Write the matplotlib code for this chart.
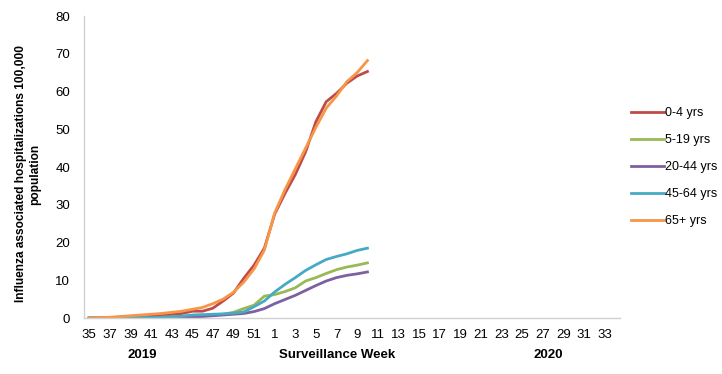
import matplotlib
matplotlib.use('Agg')
import matplotlib.pyplot as plt
import numpy as np

plt.rcParams['font.family'] = ['Liberation Sans', 'DejaVu Sans']

# surveillance weeks: 35-52 of 2019, 1-34 of 2020
weeks = list(range(35, 53)) + list(range(1, 35))

# cumulative rates per 100,000, weeks 35 (2019) to 10 (2020)
age_0_4 = [0, 0, 0.1, 0.2, 0.3, 0.4, 0.5, 0.7, 0.9, 1.2, 1.8, 1.8, 2.6, 4.5,
           6.6, 10.5, 14, 18.5, 27.5, 33, 38, 44, 52, 57.3, 59.5, 62.2, 64.1, 65.3]
age_5_19 = [0, 0, 0, 0, 0, 0.1, 0.1, 0.2, 0.3, 0.4, 0.5, 0.6, 0.8, 1.0,
            1.5, 2.5, 3.4, 5.8, 6.2, 7, 8, 9.8, 10.7, 11.8, 12.8, 13.5, 14, 14.6]
age_20_44 = [0, 0, 0, 0, 0, 0, 0.1, 0.1, 0.2, 0.2, 0.3, 0.4, 0.6, 0.8,
             1.0, 1.2, 1.7, 2.5, 3.8, 4.9, 6, 7.3, 8.6, 9.8, 10.7, 11.3, 11.7, 12.2]
age_45_64 = [0, 0, 0, 0, 0, 0, 0.1, 0.2, 0.3, 0.5, 0.8, 0.9, 1.0, 1.1,
             1.3, 1.6, 3.0, 4.5, 6.9, 8.9, 10.7, 12.6, 14.1, 15.5, 16.3, 17, 17.9, 18.5]
age_65 = [0, 0.1, 0.2, 0.4, 0.6, 0.8, 1.0, 1.2, 1.5, 1.8, 2.3, 2.8, 3.8, 5.0,
          6.8, 9.5, 13, 18, 27.8, 34, 39.5, 45, 50.5, 55.6, 58.8, 62.6, 65, 68.2]

labels = ['0-4 yrs', '5-19 yrs', '20-44 yrs', '45-64 yrs', '65+ yrs']
colors = ['#BE4B48', '#98B954', '#7D60A0', '#46AAC5', '#F79646']
series = [age_0_4, age_5_19, age_20_44, age_45_64, age_65]

fig = plt.figure(figsize=(7.22, 3.74), dpi=100)
ax = fig.add_axes([0.1163, 0.1497, 0.7424, 0.8075])

for vals, lab, c in zip(series, labels, colors):
    ax.plot(np.arange(len(vals)), vals, color=c, lw=2.0, label=lab,
            solid_joinstyle='round')

ax.set_xlim(-0.5, len(weeks) - 0.5)
ax.set_ylim(0, 80)
ax.set_yticks(range(0, 81, 10))
ax.set_xticks(range(0, len(weeks), 2))
ax.set_xticklabels([str(w) for w in weeks[::2]])
ax.tick_params(axis='both', length=0, labelsize=9.5, colors='black')
ax.tick_params(axis='x', pad=8)
ax.tick_params(axis='y', pad=10)

for s in ['top', 'right']:
    ax.spines[s].set_visible(False)
for s in ['left', 'bottom']:
    ax.spines[s].set_color('#D0D0D0')
    ax.spines[s].set_linewidth(1.0)

ax.set_ylabel('Influenza associated hospitalizations 100,000\npopulation',
              fontsize=8.6, fontweight='bold', linespacing=1.25)
ax.yaxis.set_label_coords(-0.080, 0.477)

fig.text(142 / 722, 1 - 355 / 374, '2019', fontsize=9.5, fontweight='bold',
         ha='center', va='center')
fig.text(337 / 722, 1 - 355 / 374, 'Surveillance Week', fontsize=9.5,
         fontweight='bold', ha='center', va='center')
fig.text(548 / 722, 1 - 355 / 374, '2020', fontsize=9.5, fontweight='bold',
         ha='center', va='center')

ax.legend(loc='center left', bbox_to_anchor=(1.0, 0.5), frameon=False,
          fontsize=9, handlelength=2.6, labelspacing=1.2, handletextpad=0.1)

fig.savefig('out.png', dpi=100)
